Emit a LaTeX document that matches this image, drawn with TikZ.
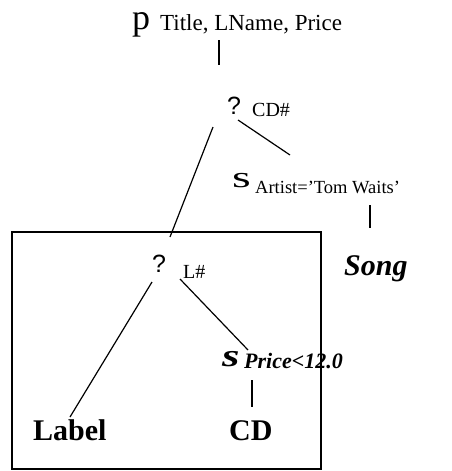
\documentclass[tikz,border=0pt]{standalone}
\usepackage{fontspec}
\setmainfont{Liberation Serif}
\newfontfamily\qsans{Liberation Sans}
\begin{document}
\begin{tikzpicture}[x=1pt,y=-1pt,
    txt/.style={inner sep=0pt,anchor=base west},
    attr/.style={txt,font=\fontsize{21}{24}\selectfont},
    opsym/.style={txt,font=\fontsize{30}{32}\selectfont},
    joinq/.style={txt,font=\qsans\fontsize{25}{28}\selectfont},
    rel/.style={txt,font=\bfseries\fontsize{30}{32}\selectfont},
    edge/.style={line width=1.2pt}]
  \useasboundingbox (0,0) rectangle (452,471);
  {
  % projection
  \node[opsym,font=\fontsize{36}{38}\selectfont] (pi) at (132,29) {p};
  \node[attr,font=\fontsize{23}{26}\selectfont] (proj) at (160,30) {Title, LName, Price};
  % upper join
  \node[joinq] (join1) at (227,114) {?};
  \node[attr,font=\fontsize{20}{24}\selectfont] (jattr1) at (252,116) {CD\#};
  % selection on artist
  \node[opsym] (sel1) at (232,187) {\scalebox{1.6}[1]{s}};
  \node[attr,font=\fontsize{18.5}{22}\selectfont] (selattr1) at (255,193) {Artist='Tom Waits'};
  \node[rel,font=\bfseries\itshape\fontsize{30}{32}\selectfont] (song) at (344,275) {Song};
  % boxed subtree
  \draw[edge] (12,232) rectangle (321,469);
  \node[joinq] (join2) at (152,272) {?};
  \node[attr,font=\fontsize{20}{24}\selectfont] (jattr2) at (183,278) {L\#};
  \node[opsym,font=\bfseries\itshape\fontsize{32}{34}\selectfont] (sel2) at (222,366) {\scalebox{1.4}[1]{s}};
  \node[attr,font=\bfseries\itshape\fontsize{22}{24}\selectfont] (selattr2) at (244,368) {Price<12.0};
  \node[rel] (label) at (33,440) {Label};
  \node[rel] (cd) at (229,440) {CD};

  % Drawing segment pi join1
  \draw[edge] ([shift={(59,10)}]proj.base west) -- ([shift={(-8,-49)}]join1.base west);
  % Drawing segment join1 join2
  \draw[edge] ([shift={(-14,13)}]join1.base west) -- ([shift={(18,-35)}]join2.base west);
  % Drawing segment join1 sel1
  \draw[edge] ([shift={(-14,4)}]jattr1.base west) -- ([shift={(58,-32)}]sel1.base west);
  % Drawing segment sel1 song
  \draw[edge] ([shift={(115,12)}]selattr1.base west) -- ([shift={(26,-47)}]song.base west);
  % Drawing segment join2 label
  \draw[edge] ([shift={(0,10)}]join2.base west) -- ([shift={(37,-23)}]label.base west);
  % Drawing segment join2 sel2
  \draw[edge] ([shift={(-3,1)}]jattr2.base west) -- ([shift={(26,-16)}]sel2.base west);
  % Drawing segment sel2 cd
  \draw[edge] ([shift={(30,14)}]sel2.base west) -- ([shift={(23,-33)}]cd.base west);
  }
\end{tikzpicture}
\end{document}
